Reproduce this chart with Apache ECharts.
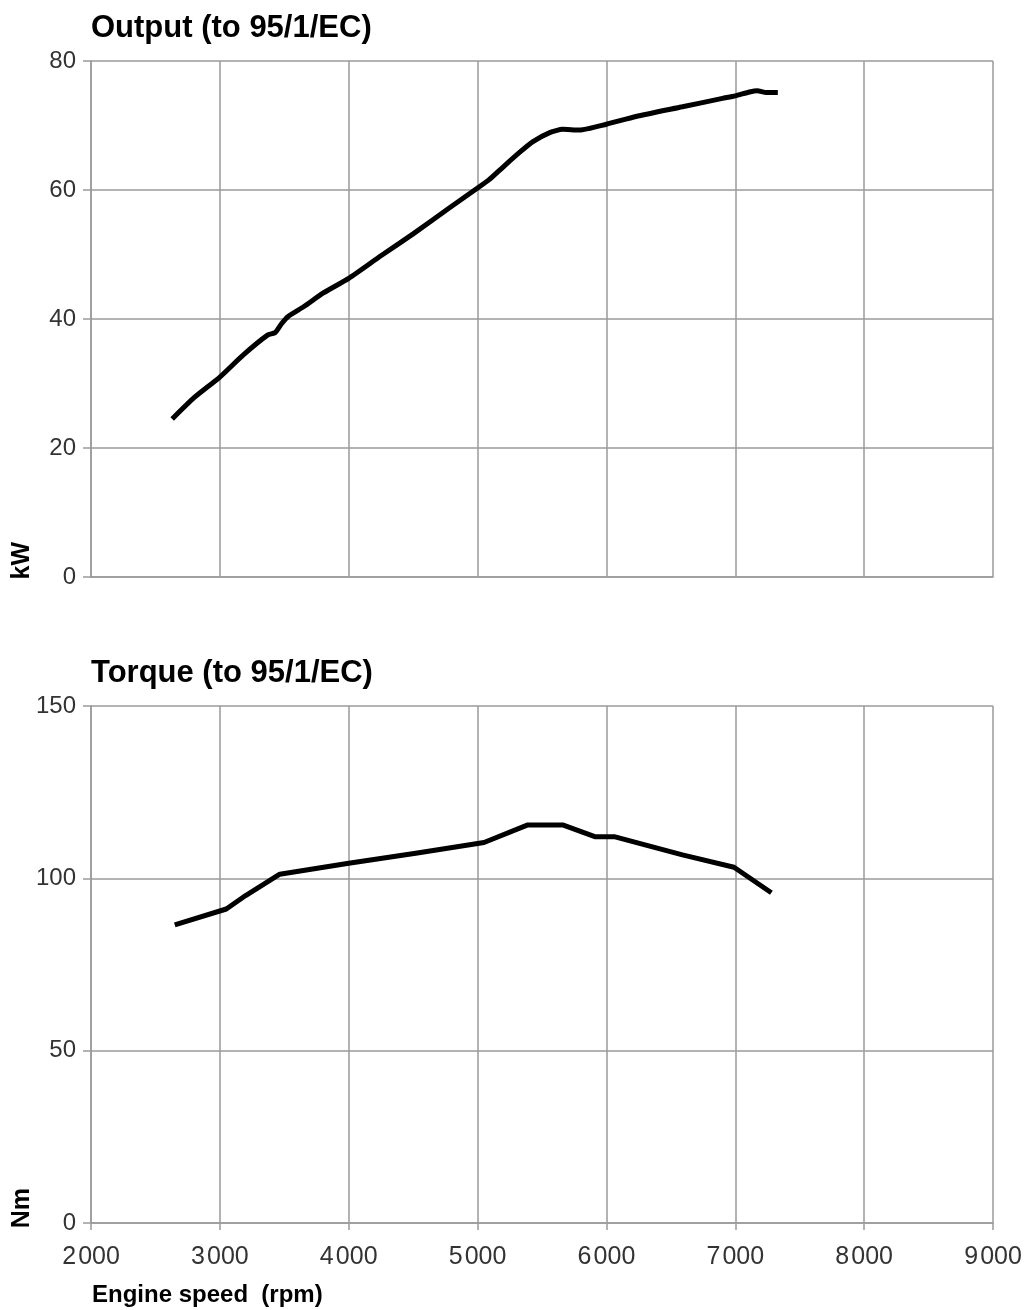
<!DOCTYPE html>
<html>
<head>
<meta charset="utf-8">
<script src="https://cdn.jsdelivr.net/npm/echarts@6/dist/echarts.min.js"></script>
<style>
html,body{margin:0;padding:0;background:#fff;}
#chart{width:1030px;height:1310px;}
</style>
</head>
<body>
<div id="chart"></div>
<script>
// Output (kW) vs engine speed (rpm)
const outputRpm = [2630, 2800, 3000, 3180, 3370, 3430, 3480, 3530, 3650, 3800, 4000, 4250, 4500, 4780, 5000, 5090, 5200, 5330, 5430, 5560, 5660, 5790, 6000, 6230, 6590, 6900, 7000, 7110, 7170, 7240, 7330];
const outputKw  = [24.5, 27.8, 31.0, 34.4, 37.5, 37.9, 39.3, 40.4, 41.9, 44.0, 46.3, 49.8, 53.2, 57.2, 60.3, 61.6, 63.6, 65.9, 67.5, 68.9, 69.4, 69.3, 70.2, 71.4, 72.9, 74.2, 74.6, 75.2, 75.4, 75.1, 75.1];
// Torque (Nm) vs engine speed (rpm)
const torqueRpm = [2650, 3050, 3200, 3465, 4000, 4520, 5050, 5390, 5660, 5910, 6060, 6590, 6990, 7280];
const torqueNm  = [86.5, 91.1, 95.0, 101.2, 104.4, 107.3, 110.4, 115.5, 115.5, 112.1, 112.1, 106.8, 103.2, 95.8];
// Axis ticks
const rpmTicks = [2000, 3000, 4000, 5000, 6000, 7000, 8000, 9000];
const rpmTickLabels = ['2\u200A000', '3\u200A000', '4\u200A000', '5\u200A000', '6\u200A000', '7\u200A000', '8\u200A000', '9\u200A000'];
const kwTicks = [0, 20, 40, 60, 80];
const nmTicks = [0, 50, 100, 150];
const titles = ['Output (to 95/1/EC)', 'Torque (to 95/1/EC)'];
const yNames = ['kW', 'Nm'];
const xName = 'Engine speed  (rpm)';

const FONT = 'Liberation Sans, Arial, sans-serif';
const gridColor = '#9a9a9a';
const labelColor = '#333';

const chart = echarts.init(document.getElementById('chart'), null, {renderer: 'canvas'});

function pairs(xs, ys) { return xs.map((x, i) => [x, ys[i]]); }

const xAxisBase = {
  type: 'value', min: rpmTicks[0], max: rpmTicks[rpmTicks.length - 1], interval: 1000,
  axisLine: {show: true, lineStyle: {color: gridColor, width: 1.5}},
  splitLine: {show: true, lineStyle: {color: gridColor, width: 1.5}},
};

const yLabel = {margin: 15, color: labelColor, fontFamily: FONT, fontSize: 24};

const option = {
  animation: false,
  backgroundColor: '#fff',
  title: [
    {text: titles[0], left: 86, top: 8, textStyle: {fontFamily: FONT, fontWeight: 'bold', fontSize: 31, color: '#000'}},
    {text: titles[1], left: 86, top: 653, textStyle: {fontFamily: FONT, fontWeight: 'bold', fontSize: 31, color: '#000'}}
  ],
  grid: [
    {left: 91, right: 37, top: 61, height: 516},
    {left: 91, right: 37, top: 706, height: 517}
  ],
  xAxis: [
    Object.assign({}, xAxisBase, {gridIndex: 0, axisTick: {show: false}, axisLabel: {show: false}}),
    Object.assign({}, xAxisBase, {gridIndex: 1,
      axisTick: {show: true, length: 7, lineStyle: {color: gridColor, width: 1.5}},
      axisLabel: {show: true, margin: 22, color: labelColor, fontFamily: FONT, fontSize: 25,
        formatter: v => rpmTickLabels[rpmTicks.indexOf(v)] || String(v)}})
  ],
  yAxis: [
    {type: 'value', gridIndex: 0, min: kwTicks[0], max: kwTicks[kwTicks.length - 1], interval: 20,
      axisLine: {show: true, lineStyle: {color: gridColor, width: 1.5}},
      axisTick: {show: true, length: 8, lineStyle: {color: gridColor, width: 1.5}},
      splitLine: {show: true, lineStyle: {color: gridColor, width: 1.5}},
      axisLabel: yLabel},
    {type: 'value', gridIndex: 1, min: nmTicks[0], max: nmTicks[nmTicks.length - 1], interval: 50,
      axisLine: {show: true, lineStyle: {color: gridColor, width: 1.5}},
      axisTick: {show: true, length: 8, lineStyle: {color: gridColor, width: 1.5}},
      splitLine: {show: true, lineStyle: {color: gridColor, width: 1.5}},
      axisLabel: yLabel}
  ],
  graphic: [
    {type: 'text', left: 10, top: 542, rotation: Math.PI / 2,
      style: {text: yNames[0], fontFamily: FONT, fontWeight: 'bold', fontSize: 25, fill: '#000'}},
    {type: 'text', left: 10, top: 1188, rotation: Math.PI / 2,
      style: {text: yNames[1], fontFamily: FONT, fontWeight: 'bold', fontSize: 25, fill: '#000'}},
    {type: 'text', left: 92, top: 1283,
      style: {text: xName, fontFamily: FONT, fontWeight: 'bold', fontSize: 24, fill: '#000'}}
  ],
  series: [
    {type: 'line', xAxisIndex: 0, yAxisIndex: 0, data: pairs(outputRpm, outputKw),
      showSymbol: false, smooth: 0.2, lineStyle: {color: '#000', width: 5}, silent: true},
    {type: 'line', xAxisIndex: 1, yAxisIndex: 1, data: pairs(torqueRpm, torqueNm),
      showSymbol: false, smooth: false, lineStyle: {color: '#000', width: 5, join: 'round'}, silent: true}
  ]
};
chart.setOption(option);
</script>
</body>
</html>
